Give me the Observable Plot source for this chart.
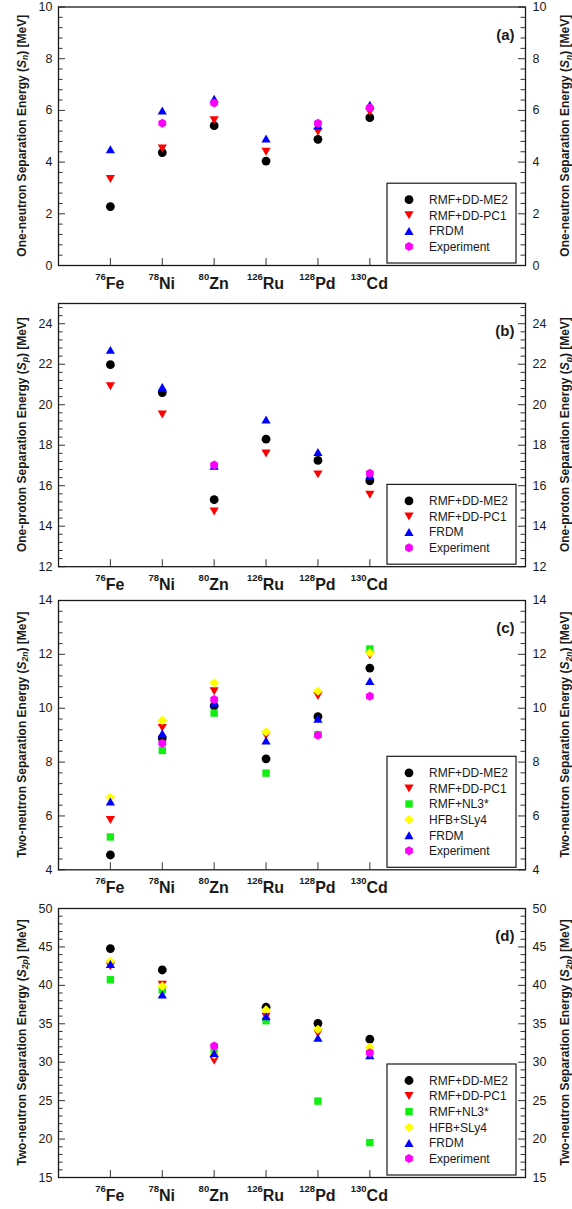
<!DOCTYPE html>
<html><head><meta charset="utf-8">
<script src="https://cdn.jsdelivr.net/npm/d3@7"></script>
<script src="https://cdn.jsdelivr.net/npm/@observablehq/plot@0.6"></script>
<style>
html,body{margin:0;padding:0;background:#fff;overflow:hidden;}
#chart{position:relative;width:572px;height:1209px;font-family:"Liberation Sans",Arial,sans-serif;}
#chart svg{position:absolute;left:0;}
</style></head><body><div id="chart"></div>
<script>
// ---- categories ----
const isotopes = ["Fe", "Ni", "Zn", "Ru", "Pd", "Cd"];
const massNumbers = ["76", "78", "80", "126", "128", "130"];

// ---- (a) one-neutron separation energy S_n [MeV] ----
const snDDME2 = [2.28, 4.37, 5.41, 4.04, 4.88, 5.72];
const snDDPC1 = [3.35, 4.53, 5.62, 4.40, 5.17, 5.94];
const snFRDM  = [4.50, 6.00, 6.45, 4.91, 5.42, 6.22];
const snExp   = [null, 5.50, 6.29, null, 5.50, 6.10];

// ---- (b) one-proton separation energy S_p [MeV] ----
const spDDME2 = [21.98, 20.60, 15.31, 18.30, 17.25, 16.24];
const spDDPC1 = [20.91, 19.52, 14.73, 17.59, 16.56, 15.55];
const spFRDM  = [22.71, 20.88, 16.98, 19.27, 17.67, 16.52];
const spExp   = [null, null, 17.02, null, null, 16.62];

// ---- (c) two-neutron separation energy S_2n [MeV] ----
const s2nDDME2 = [4.55, 8.89, 10.09, 8.12, 9.69, 11.49];
const s2nDDPC1 = [5.85, 9.27, 10.63, 8.99, 10.45, 11.97];
const s2nNL3   = [5.22, 8.43, 9.82, 7.59, 9.02, 12.20];
const s2nSLy4  = [6.69, 9.55, 10.94, 9.12, 10.63, 12.06];
const s2nFRDM  = [6.54, 9.07, 10.20, 8.80, 9.61, 11.01];
const s2nExp   = [null, 8.70, 10.32, null, 9.00, 10.44];

// ---- (d) two-proton separation energy S_2p [MeV] ----
const s2pDDME2 = [44.79, 42.00, null, 37.15, 35.06, 33.00];
const s2pDDPC1 = [42.47, 40.07, 30.18, 35.93, 33.75, null];
const s2pNL3   = [40.73, 39.42, 31.30, 35.40, 24.94, 19.54];
const s2pSLy4  = [43.13, 39.90, 31.00, 36.80, 34.28, 31.92];
const s2pFRDM  = [42.78, 38.81, 31.20, 35.98, 33.19, 30.92];
const s2pExp   = [null, null, 32.10, null, null, 31.22];

// ---- series names ----
const seriesNames = {DDME2: "RMF+DD-ME2", DDPC1: "RMF+DD-PC1", NL3: "RMF+NL3*", SLy4: "HFB+SLy4", FRDM: "FRDM", EXP: "Experiment"};

// ---- symbols ----
const half = s => Math.sqrt(s / Math.PI);
const sym = {
  circle: {draw(c, s) { const r = half(s); c.moveTo(r, 0); c.arc(0, 0, r, 0, 2 * Math.PI); }},
  up: {draw(c, s) { const h = half(s), H = h * Math.sqrt(3); c.moveTo(0, -H / 2); c.lineTo(h, H / 2); c.lineTo(-h, H / 2); c.closePath(); }},
  down: {draw(c, s) { const h = half(s), H = h * Math.sqrt(3); c.moveTo(0, H / 2); c.lineTo(h, -H / 2); c.lineTo(-h, -H / 2); c.closePath(); }},
  square: {draw(c, s) { const h = half(s); c.rect(-h, -h, 2 * h, 2 * h); }},
  diamond: {draw(c, s) { const h = half(s); c.moveTo(0, -0.92 * h); c.lineTo(h, 0); c.lineTo(0, 0.92 * h); c.lineTo(-h, 0); c.closePath(); }},
  hexagon: {draw(c, s) { const h = half(s); for (let k = 0; k < 6; k++) { const a = -Math.PI / 2 + k * Math.PI / 3; const px = h * Math.cos(a), py = h * Math.sin(a); if (k === 0) c.moveTo(px, py); else c.lineTo(px, py); } c.closePath(); }}
};
const styles = {
  DDME2: {symbol: sym.circle, color: "#000000", r: 4.4},
  DDPC1: {symbol: sym.down, color: "#ff0000", r: 4.6},
  NL3:   {symbol: sym.square, color: "#11ee11", r: 3.7},
  SLy4:  {symbol: sym.diamond, color: "#ffff00", r: 5.0},
  FRDM:  {symbol: sym.up, color: "#0000ff", r: 4.6},
  EXP:   {symbol: sym.hexagon, color: "#ff00ff", r: 4.5}
};

const panels = [
  {tag: "(a)", title: ["One-neutron Separation Energy (", "n", ") [MeV]"], domain: [0, 10], major: 2, minor: 0.4, frameTop: 6.5, frameBottom: 265,
   series: [["DDME2", snDDME2], ["DDPC1", snDDPC1], ["FRDM", snFRDM], ["EXP", snExp]]},
  {tag: "(b)", title: ["One-proton Separation Energy (", "p", ") [MeV]"], domain: [12, 25], major: 2, minor: 0.4, frameTop: 302.5, frameBottom: 565.7,
   series: [["DDME2", spDDME2], ["DDPC1", spDDPC1], ["FRDM", spFRDM], ["EXP", spExp]]},
  {tag: "(c)", title: ["Two-neutron Separation Energy (", "2n", ") [MeV]"], domain: [4, 14], major: 2, minor: 0.4, frameTop: 600, frameBottom: 869.3,
   series: [["DDME2", s2nDDME2], ["DDPC1", s2nDDPC1], ["NL3", s2nNL3], ["SLy4", s2nSLy4], ["FRDM", s2nFRDM], ["EXP", s2nExp]]},
  {tag: "(d)", title: ["Two-neutron Separation Energy (", "2p", ") [MeV]"], domain: [15, 50], major: 5, minor: 1, frameTop: 908.3, frameBottom: 1177.3,
   series: [["DDME2", s2pDDME2], ["DDPC1", s2pDDPC1], ["NL3", s2pNL3], ["SLy4", s2pSLy4], ["FRDM", s2pFRDM], ["EXP", s2pExp]]}
];

const W = 572, ML = 58, MR = 47, MB = 36;
const FW = W - ML - MR;
const INK = "#1a1a1a";
const positions = isotopes.map((_, i) => i + 1);

function rows(arr) { return arr.map((v, i) => ({x: i + 1, y: v})).filter(d => d.y != null); }

function isotopeLabels(index, scales, values, dims) {
  const g = d3.create("svg:g");
  const y0 = dims.height - dims.marginBottom + 23.5;
  isotopes.forEach((el, i) => {
    const t = g.append("text").attr("x", scales.x(i + 1)).attr("y", y0)
      .attr("text-anchor", "middle").attr("font-weight", "bold").attr("fill", INK);
    t.append("tspan").attr("font-size", 9.5).attr("dy", -8.5).text(massNumbers[i]);
    t.append("tspan").attr("font-size", 16).attr("dy", 8.5).text(el);
  });
  return g.node();
}

function yTitles(parts) {
  return (index, scales, values, dims) => {
    const g = d3.create("svg:g");
    const cy = dims.marginTop + (dims.height - dims.marginTop - dims.marginBottom) / 2;
    [21.5, 565].forEach(x => {
      const t = g.append("text").attr("transform", `translate(${x},${cy}) rotate(-90)`)
        .attr("text-anchor", "middle").attr("dy", "0.36em").attr("font-weight", "bold")
        .attr("font-size", 12).attr("fill", INK);
      t.append("tspan").text(parts[0]);
      t.append("tspan").attr("font-style", "italic").text("S");
      t.append("tspan").attr("font-style", "italic").attr("font-size", 8.5).attr("dy", 2.5).text(parts[1]);
      t.append("tspan").attr("dy", -2.5).text(parts[2]);
    });
    return g.node();
  };
}

function legendMark(keys) {
  return (index, scales, values, dims) => {
    const right = dims.width - dims.marginRight - 9;
    const bottom = dims.height - dims.marginBottom - 2;
    const pad = 16.5, step = 15.6, w = 129;
    const h = pad * 2 + step * (keys.length - 1);
    const left = right - w, top = bottom - h;
    const g = d3.create("svg:g");
    g.append("rect").attr("x", left).attr("y", top).attr("width", w).attr("height", h)
      .attr("fill", "white").attr("stroke", INK).attr("stroke-width", 1.2);
    keys.forEach((k, j) => {
      const st = styles[k];
      const cy = top + pad + j * step;
      g.append("path").attr("transform", `translate(${left + 22},${cy})`)
        .attr("d", d3.symbol(st.symbol, st.r * st.r * Math.PI)()).attr("fill", st.color);
      g.append("text").attr("x", left + 42).attr("y", cy).attr("dy", "0.36em")
        .attr("text-anchor", "start")
        .attr("font-size", 12).attr("fill", INK).text(seriesNames[k]);
    });
    return g.node();
  };
}

const chart = document.getElementById("chart");
panels.forEach(p => {
  const mt = p.frameTop < 10 ? p.frameTop : 12;
  const fh = p.frameBottom - p.frameTop;
  const [lo, hi] = p.domain;
  const majors = d3.range(Math.ceil(lo / p.major), Math.floor(hi / p.major) + 1).map(k => k * p.major);
  const nMinor = Math.floor((hi - lo) / p.minor + 1e-9);
  const minors = d3.range(nMinor + 1).map(k => +(lo + k * p.minor).toFixed(4))
    .filter(v => Math.abs(v / p.major - Math.round(v / p.major)) > 1e-6);

  const marks = [
    Plot.tickY(majors, {y: d => d, insetRight: FW - 7, stroke: "#333", strokeWidth: 1}),
    Plot.tickY(majors, {y: d => d, insetLeft: FW - 7, stroke: "#333", strokeWidth: 1}),
    Plot.tickY(minors, {y: d => d, insetRight: FW - 4.5, stroke: "#333", strokeWidth: 1}),
    Plot.tickY(minors, {y: d => d, insetLeft: FW - 4.5, stroke: "#333", strokeWidth: 1}),
    Plot.tickX(positions, {x: d => d, insetTop: fh - 7, stroke: "#333", strokeWidth: 1}),
    Plot.axisY({anchor: "left", ticks: majors, tickSize: 0, tickPadding: 6, fontSize: 12.5, label: null, fill: INK}),
    Plot.axisY({anchor: "right", ticks: majors, tickSize: 0, tickPadding: 7, fontSize: 12.5, label: null, fill: INK}),
    Plot.frame({stroke: INK, strokeWidth: 1.3}),
    ...p.series.map(([k, arr]) => Plot.dot(rows(arr), {x: "x", y: "y", r: styles[k].r, symbol: styles[k].symbol, fill: styles[k].color, stroke: "none"})),
    legendMark(p.series.map(s => s[0])),
    Plot.text([p.tag], {text: d => d, frameAnchor: "top-right", dx: -11, dy: 22, fontSize: 15, fontWeight: "bold", textAnchor: "end", fill: INK}),
    isotopeLabels,
    yTitles(p.title)
  ];

  const svg = Plot.plot({
    width: W,
    height: mt + fh + MB,
    marginLeft: ML, marginRight: MR, marginTop: mt, marginBottom: MB,
    style: {background: "transparent", fontFamily: "Liberation Sans, Arial, sans-serif", fontSize: "12px", overflow: "visible", color: INK},
    x: {domain: [0, 9], axis: null},
    y: {domain: p.domain},
    marks
  });
  svg.style.top = (p.frameTop - mt) + "px";
  chart.appendChild(svg);
});
</script></body></html>
